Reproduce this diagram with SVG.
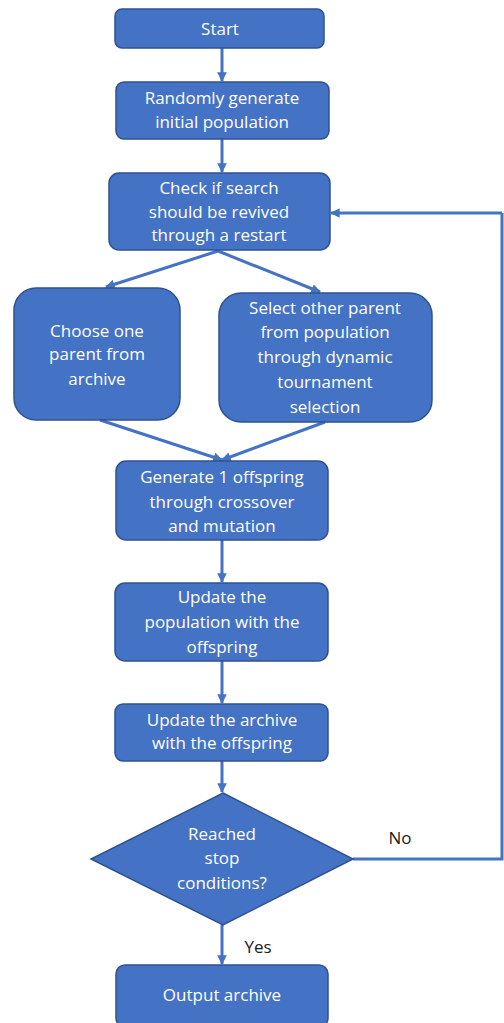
<svg xmlns="http://www.w3.org/2000/svg" width="504" height="1023" viewBox="0 0 504 1023">
<defs>
<marker id="ah" viewBox="0 0 10 10" refX="9" refY="5" markerWidth="3.2" markerHeight="3.2" orient="auto" markerUnits="strokeWidth">
<path d="M0,0 L10,5 L0,10 z" fill="#4472C4"/>
</marker>
<style>
.box{fill:#4472C4;stroke:#2F528F;stroke-width:1.5}
.t{fill:#ffffff;font-family:"Open Sans","Liberation Sans",Arial,sans-serif;font-size:17px;text-anchor:middle}
.l{fill:#1a1a1a;font-family:"Open Sans","Liberation Sans",Arial,sans-serif;font-size:17px;text-anchor:middle}
.c{stroke:#4472C4;stroke-width:3;fill:none}
.ca{stroke:#4472C4;stroke-width:3;fill:none;marker-end:url(#ah)}
</style>
</defs>
<rect width="504" height="1023" fill="#ffffff"/>
<g id="connectors">
<line class="ca" x1="222" y1="48" x2="222" y2="81"/>
<line class="ca" x1="222" y1="139" x2="222" y2="172"/>
<line class="ca" x1="218" y1="251" x2="106" y2="287"/>
<line class="ca" x1="218" y1="251" x2="320" y2="292"/>
<line class="ca" x1="100" y1="420" x2="222" y2="460"/>
<line class="ca" x1="325" y1="422" x2="222" y2="460"/>
<line class="ca" x1="222" y1="540" x2="222" y2="582"/>
<line class="ca" x1="222" y1="661" x2="222" y2="703"/>
<line class="ca" x1="222" y1="761" x2="222" y2="792"/>
<line class="ca" x1="222" y1="925" x2="222" y2="964"/>
<polyline class="c" points="353,859 502,859 502,213"/>
<line class="ca" x1="502" y1="213" x2="331" y2="213"/>
<text class="l" x="400" y="844">No</text>
<text class="l" x="258" y="953">Yes</text>
</g>
<g id="start">
<rect class="box" x="115" y="9" width="209" height="39" rx="7"/>
<text class="t" x="220" y="35">Start</text>
</g>
<g id="random">
<rect class="box" x="116" y="82" width="213" height="57" rx="8"/>
<text class="t" x="222" y="104">Randomly generate</text>
<text class="t" x="222" y="128">initial population</text>
</g>
<g id="check">
<rect class="box" x="109" y="173" width="221" height="77" rx="10"/>
<text class="t" x="219" y="194">Check if search</text>
<text class="t" x="219" y="218">should be revived</text>
<text class="t" x="219" y="241">through a restart</text>
</g>
<g id="choose">
<rect class="box" x="14" y="288" width="166" height="132" rx="22"/>
<text class="t" x="97" y="337">Choose one</text>
<text class="t" x="97" y="360">parent from</text>
<text class="t" x="97" y="385">archive</text>
</g>
<g id="select">
<rect class="box" x="219" y="293" width="213" height="129" rx="22"/>
<text class="t" x="325" y="314">Select other parent</text>
<text class="t" x="325" y="338">from population</text>
<text class="t" x="325" y="363">through dynamic</text>
<text class="t" x="325" y="388">tournament</text>
<text class="t" x="325" y="413">selection</text>
</g>
<g id="generate">
<rect class="box" x="116" y="461" width="212" height="79" rx="10"/>
<text class="t" x="222" y="483">Generate 1 offspring</text>
<text class="t" x="222" y="508">through crossover</text>
<text class="t" x="222" y="532">and mutation</text>
</g>
<g id="updatepop">
<rect class="box" x="115" y="583" width="213" height="78" rx="10"/>
<text class="t" x="222" y="603">Update the</text>
<text class="t" x="222" y="628">population with the</text>
<text class="t" x="222" y="653">offspring</text>
</g>
<g id="updatearch">
<rect class="box" x="115" y="704" width="213" height="57" rx="8"/>
<text class="t" x="222" y="726">Update the archive</text>
<text class="t" x="222" y="749">with the offspring</text>
</g>
<g id="decision">
<polygon class="box" points="223,793 353,859 223,925 91,859"/>
<text class="t" x="222" y="840">Reached</text>
<text class="t" x="222" y="864">stop</text>
<text class="t" x="222" y="889">conditions?</text>
</g>
<g id="output">
<rect class="box" x="116" y="965" width="212" height="62" rx="9"/>
<text class="t" x="222" y="1001">Output archive</text>
</g>
</svg>
